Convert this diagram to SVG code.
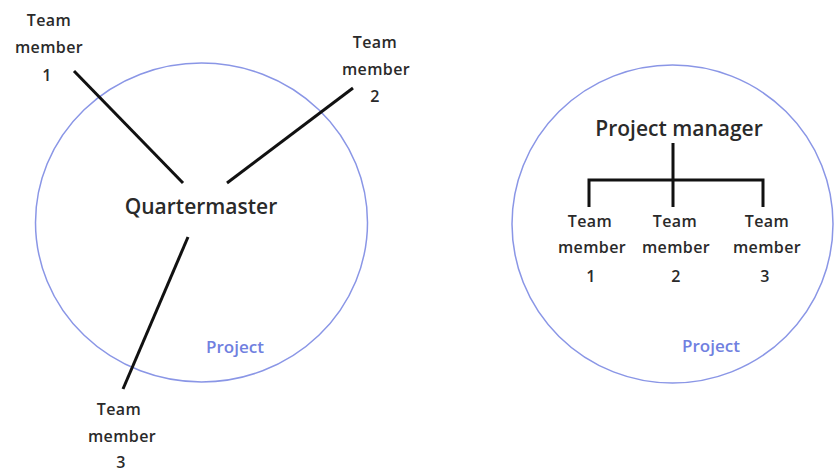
<svg xmlns="http://www.w3.org/2000/svg" width="835" height="472" viewBox="0 0 835 472">
<style>
text{font-family:"Open Sans","Liberation Sans",sans-serif;fill:#2a2a2a;text-anchor:middle;font-weight:600}
.sm{font-size:16px;letter-spacing:0.4px}
.lg{font-size:21px}
.proj{font-size:17px;fill:#7080e0}
.ring{fill:none;stroke:#8a96e6;stroke-width:1.5}
.ln{stroke:#111;stroke-width:3;fill:none}
</style>
<rect width="835" height="472" fill="#fff"/>
<g id="project-left">
<ellipse class="ring" cx="201.5" cy="222.5" rx="166" ry="159.5"/>
<text class="proj" x="235" y="353">Project</text>
</g>
<g id="project-right">
<ellipse class="ring" cx="672.5" cy="224" rx="160.5" ry="159"/>
<text class="proj" x="711" y="352">Project</text>
</g>
<g id="connectors">
<line class="ln" x1="74" y1="71" x2="183" y2="183"/>
<line class="ln" x1="353" y1="88" x2="227" y2="183"/>
<line class="ln" x1="188" y1="237" x2="123" y2="389"/>
<path class="ln" d="M673 143V207M589 207V180H763V207"/>
</g>
<g id="quartermaster"><text class="lg" x="201" y="214">Quartermaster</text></g>
<g id="tm1-left"><text class="sm" x="49" y="26">Team</text><text class="sm" x="49" y="53">member</text><text class="sm" x="47" y="81">1</text></g>
<g id="tm2-left"><text class="sm" x="375" y="48">Team</text><text class="sm" x="376" y="75">member</text><text class="sm" x="375" y="102">2</text></g>
<g id="tm3-left"><text class="sm" x="119" y="415">Team</text><text class="sm" x="122" y="442">member</text><text class="sm" x="121" y="468">3</text></g>
<g id="project-manager"><text class="lg" x="679" y="136">Project manager</text></g>
<g id="tm1-right"><text class="sm" x="590" y="227">Team</text><text class="sm" x="592" y="253">member</text><text class="sm" x="591" y="282">1</text></g>
<g id="tm2-right"><text class="sm" x="675" y="227">Team</text><text class="sm" x="676" y="253">member</text><text class="sm" x="676" y="282">2</text></g>
<g id="tm3-right"><text class="sm" x="767" y="227">Team</text><text class="sm" x="767" y="253">member</text><text class="sm" x="765" y="282">3</text></g>
</svg>
